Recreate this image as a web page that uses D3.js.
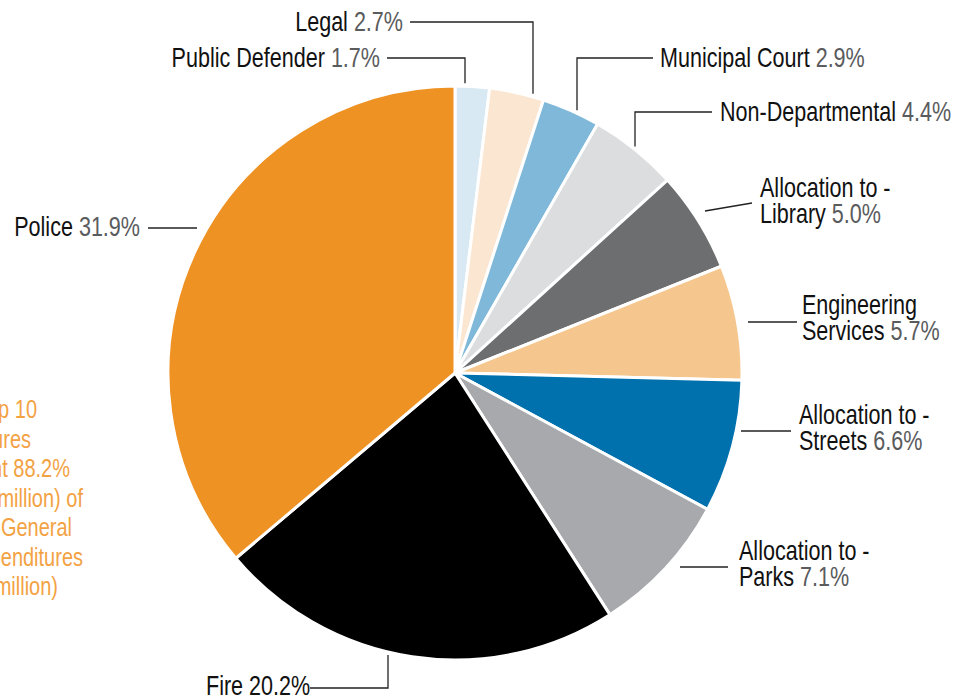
<!DOCTYPE html>
<html>
<head>
<meta charset="utf-8">
<script src="https://cdn.jsdelivr.net/npm/d3@7"></script>
<style>
  body { margin: 0; background: #fff; }
  svg { display: block; }
  .name { fill: #111; font-family: "Liberation Sans", Arial, sans-serif; font-size: 28px; }
  .pct { fill: #5a5b5d; }
  .note { fill: #f3a243; font-family: "Liberation Sans", Arial, sans-serif; font-size: 25px; }
</style>
</head>
<body>
<div id="chart"></div>
<script>
// departments, clockwise from 12 o'clock
const categories = [
  "Public Defender", "Legal", "Municipal Court", "Non-Departmental",
  "Allocation to - Library", "Engineering Services", "Allocation to - Streets",
  "Allocation to - Parks", "Fire", "Police"
];
const shares = [1.7, 2.7, 2.9, 4.4, 5.0, 5.7, 6.6, 7.1, 20.2, 31.9];
const colors = [
  "#d8e9f3", "#fbe6d2", "#7fb8d8", "#dcdddf", "#6d6e70",
  "#f5c78f", "#0071ad", "#a7a9ac", "#000000", "#ee9223"
];
const noteLines = [
  "Top 10", "Expenditures", "Represent 88.2%", "($000.0 million) of",
  "Total General", "Fund Expenditures", "($000.0 million)"
];

const width = 953, height = 699;
const cx = 455, cy = 373, radius = 287;
const squeeze = 0.77; // condensed look

const svg = d3.select("#chart").append("svg")
  .attr("width", width)
  .attr("height", height);

const g = svg.append("g").attr("transform", `translate(${cx},${cy})`);

const pie = d3.pie().sort(null).value(d => d.value);
const arc = d3.arc().innerRadius(0).outerRadius(radius);

const data = categories.map((c, i) => ({ name: c, value: shares[i], color: colors[i] }));
const arcs = pie(data);

g.selectAll("path.slice")
  .data(arcs)
  .enter()
  .append("path")
  .attr("class", "slice")
  .attr("d", arc)
  .attr("fill", d => d.data.color)
  .attr("stroke", "#fff")
  .attr("stroke-width", 3)
  .attr("stroke-linejoin", "round");

// label layout: text lines, text position, anchor, leader type
// "elbow": horizontal from text then vertical to the pie edge at x = ex
// "flat": straight line between two points
const labels = [
  { lines: ["Public Defender"], x: 380, y: 67, anchor: "end", kind: "elbow", lx: 387, ly: 58, ex: 465 },
  { lines: ["Legal"], x: 403, y: 31, anchor: "end", kind: "elbow", lx: 410, ly: 22, ex: 533 },
  { lines: ["Municipal Court"], x: 660, y: 67, anchor: "start", kind: "elbow", lx: 653, ly: 58, ex: 577 },
  { lines: ["Non-Departmental"], x: 720, y: 121, anchor: "start", kind: "elbow", lx: 712, ly: 112, ex: 635 },
  { lines: ["Allocation to -", "Library"], x: 760, y: 197, anchor: "start", kind: "flat", pts: [[705, 211], [752, 203]] },
  { lines: ["Engineering", "Services"], x: 802, y: 314, anchor: "start", kind: "flat", pts: [[748, 322], [797, 322]] },
  { lines: ["Allocation to -", "Streets"], x: 799, y: 424, anchor: "start", kind: "flat", pts: [[741, 431], [791, 431]] },
  { lines: ["Allocation to -", "Parks"], x: 739, y: 560, anchor: "start", kind: "flat", pts: [[680, 567], [728, 567]] },
  { lines: ["Fire"], x: 206, y: 695, anchor: "start", kind: "elbow", lx: 310, ly: 688, ex: 388, below: true, dark: true },
  { lines: ["Police"], x: 140, y: 236, anchor: "end", kind: "flat", pts: [[148, 228], [197, 228]] }
];

const leaders = svg.append("g")
  .attr("fill", "none")
  .attr("stroke", "#222")
  .attr("stroke-width", 1.3);

labels.forEach((l, i) => {
  let pts;
  if (l.kind === "elbow") {
    const dx = l.ex - cx;
    const dy = Math.sqrt(radius * radius - dx * dx);
    const ey = l.below ? cy + dy + 3 : cy - dy - 3;
    pts = [[l.lx, l.ly], [l.ex, l.ly], [l.ex, ey]];
  } else {
    pts = l.pts;
  }
  leaders.append("path").attr("d", d3.line()(pts));

  const t = svg.append("g")
    .attr("transform", `translate(${l.x},${l.y}) scale(${squeeze},1)`)
    .append("text")
    .attr("class", "name")
    .attr("text-anchor", l.anchor);
  l.lines.forEach((ln, j) => {
    const ts = t.append("tspan")
      .attr("x", 0)
      .attr("y", j * 26)
      .text(ln);
    if (j === l.lines.length - 1) {
      ts.append("tspan")
        .attr("class", l.dark ? null : "pct")
        .text(" " + shares[i].toFixed(1) + "%");
    }
  });
});

// orange note, cut by the left edge
const noteRight = [37, 31, 70, 83, 72, 83, 58];
svg.append("g").selectAll("g")
  .data(noteLines)
  .enter()
  .append("g")
  .attr("transform", (d, i) => `translate(${noteRight[i]},${418 + i * 29.5}) scale(0.8,1)`)
  .append("text")
  .attr("class", "note")
  .attr("text-anchor", "end")
  .text(d => d);
</script>
</body>
</html>
